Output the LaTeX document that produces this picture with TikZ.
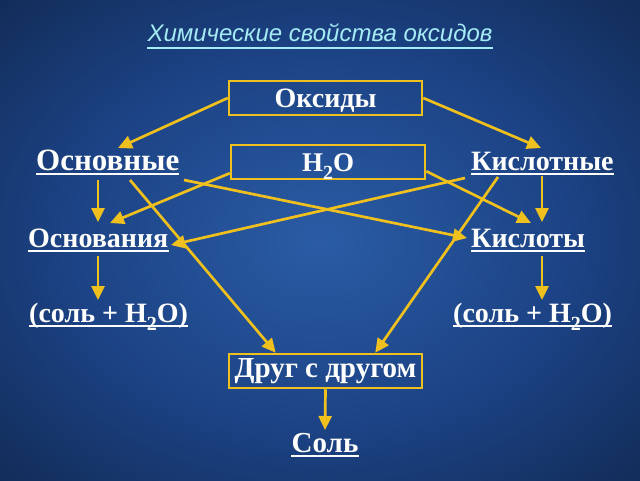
\documentclass[tikz,border=0pt]{standalone}
\usepackage{fontspec}
\setmainfont{Liberation Serif}
\newfontfamily\titlefont{Liberation Sans}
\usetikzlibrary{arrows.meta,calc}
\definecolor{ylw}{RGB}{240,192,30}
\definecolor{ttl}{RGB}{165,235,245}
\definecolor{bgin}{RGB}{42,92,165}
\definecolor{bgmid}{RGB}{28,66,132}
\definecolor{bgout}{RGB}{12,32,64}
\pgfdeclareradialshading{bgshade}{\pgfpoint{0bp}{0bp}}{color(0bp)=(bgin); color(20bp)=(bgmid); color(44bp)=(bgout); color(50bp)=(bgout)}
\newcommand\ulin[2][-4pt]{\draw[ul] ([yshift=#1]#2.base west) -- ([yshift=#1]#2.base east);}
\newcommand\Hsub{H\raisebox{-0.3em}{\fontsize{20}{20}\selectfont 2}O}
\tikzset{
  lbl/.style={text=white, inner sep=0pt, anchor=base west, font=\bfseries\fontsize{28}{28}\selectfont},
  boxnode/.style={draw=ylw, line width=2.5pt, minimum width=193pt, minimum height=34pt, inner sep=0pt, text height=19pt, text depth=7pt, text=white, font=\bfseries\fontsize{28}{28}\selectfont},
  lowtext/.style={text height=22pt, text depth=4pt},
  arr/.style={draw=ylw, line width=2.7pt, -{Triangle[length=14pt,width=13pt]}},
  ul/.style={draw=white, line width=2pt},
}
\begin{document}
\begin{tikzpicture}[x=1pt,y=-1pt]
\useasboundingbox (0,0) rectangle (640,480);
\shade[shading=bgshade] (0,0) rectangle (640,480);

% title
\node[text=ttl, inner sep=0pt, anchor=base, font=\titlefont\itshape\fontsize{24}{24}\selectfont] (title) at (320,41) {Химические свойства оксидов};
\draw[draw=ttl, line width=2pt] ([yshift=-7pt]title.base west) -- ([yshift=-7pt]title.base east);

% boxes
\node[boxnode, lowtext] (oks) at (325.5,98) {Оксиды};
\node[boxnode, lowtext, minimum width=194pt, font=\bfseries\fontsize{27}{27}\selectfont] (h2o) at (328,162) {\Hsub};
\node[boxnode, font=\bfseries\fontsize{29}{29}\selectfont] (drug) at (325.5,371) {Друг с другом};

% labels
\node[lbl, font=\bfseries\fontsize{31}{31}\selectfont] (osn) at (36,170) {Основные};
\node[lbl] (kisn) at (471,170) {Кислотные};
\node[lbl] (osnv) at (28,247) {Основания};
\node[lbl] (kisl) at (471,247) {Кислоты};
\node[lbl] (s1) at (29,322) {(соль + \Hsub)};
\node[lbl] (s2) at (453,322) {(соль + \Hsub)};
\node[lbl, anchor=base, font=\bfseries\fontsize{29}{29}\selectfont] (sol) at (325,452) {Соль};

\ulin{osn}\ulin{kisn}\ulin{osnv}\ulin{kisl}\ulin{s1}\ulin{s2}\ulin{sol}

% arrow end points
\coordinate (a1) at (118,148);
\coordinate (a2) at (541,148);
\coordinate (b1) at (98,180);  \coordinate (b2) at (98,222);
\coordinate (c1) at (98,256);  \coordinate (c2) at (98,300);
\coordinate (d1) at (542,176); \coordinate (d2) at (542,222);
\coordinate (e1) at (542,256); \coordinate (e2) at (542,300);
\coordinate (f1) at (184,180); \coordinate (f2) at (467,238);
\coordinate (g1) at (465,178); \coordinate (g2) at (171,245);
\coordinate (h2) at (110,223);
\coordinate (i2) at (531,223);
\coordinate (j1) at (130,180);
\coordinate (k1) at (498,177);
\coordinate (m2) at (325,430);

\draw[arr] (oks.west) -- (a1);
\draw[arr] (oks.east) -- (a2);
\draw[arr] (b1) -- (b2);
\draw[arr] (c1) -- (c2);
\draw[arr] (d1) -- (d2);
\draw[arr] (e1) -- (e2);
\draw[arr] (f1) -- (f2);
\draw[arr] (g1) -- (g2);
\draw[arr] ([yshift=7pt]h2o.south west) -- (h2);
\draw[arr] ([yshift=9pt]h2o.south east) -- (i2);
\draw[arr] (j1) -- ([xshift=48pt]drug.north west);
\draw[arr] (k1) -- ([xshift=-48pt]drug.north east);
\draw[arr] (drug.south) -- (m2);
\end{tikzpicture}
\end{document}
